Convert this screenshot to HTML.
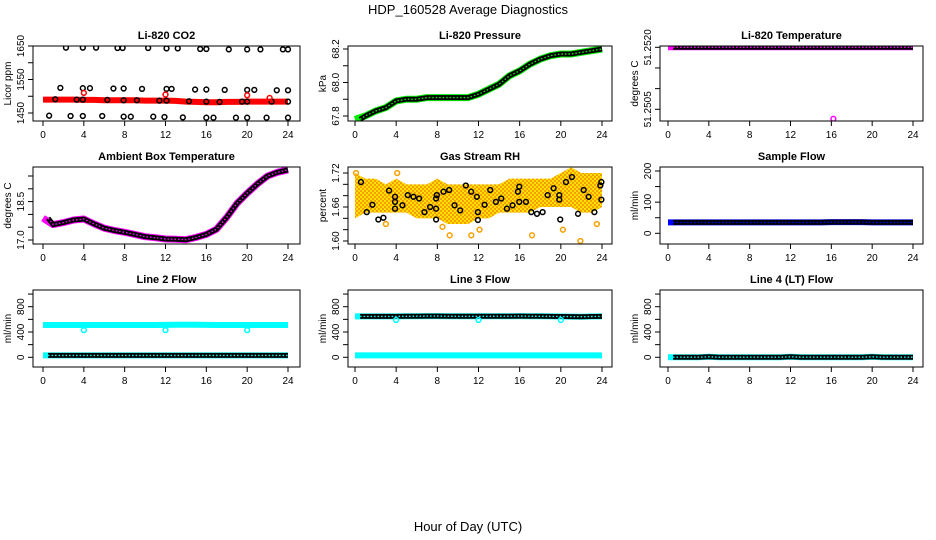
<!DOCTYPE html>
<html><head><meta charset="utf-8">
<style>
html,body{margin:0;padding:0;background:#fff}
svg{display:block}
text{font-family:"Liberation Sans",sans-serif}
</style></head>
<body>
<svg id="c" width="936" height="540" viewBox="0 0 936 540" xmlns="http://www.w3.org/2000/svg">
<text x="468" y="14" text-anchor="middle" font-size="13">HDP_160528  Average Diagnostics</text>
<text x="468" y="531" text-anchor="middle" font-size="13">Hour of Day (UTC)</text>
</svg>
<script>
// ---- data ----
const hours = [0,1,2,3,4,5,6,7,8,9,10,11,12,13,14,15,16,17,18,19,20,21,22,23,24];
const xTicks = [0,4,8,12,16,20,24];
// CO2
const co2Band = [1490,1490,1490,1490,1489,1489,1488,1488,1488,1488,1487,1487,1487,1486,1484,1483,1482,1482,1483,1483,1484,1484,1484,1484,1484];
const co2PtT = [2.25,3.9,5.2,7.3,7.8,10.3,12.1,13.2,15.4,16,18.2,20,21.3,23.5,24,
 1.7,3.9,4.6,6.9,7.9,9.7,12.1,12.6,14.9,16,17.8,20,20.7,22.9,24,
 0.6,2.7,3.9,5.8,7.9,8.6,10.8,11.9,13.7,16,16.7,18.9,20,21.9,24,
 1.2,3.3,3.9,6.3,7.9,9.2,11.4,12.1,14.3,16,17.3,19.5,20,22.4,24];
const co2PtV = [1645,1645,1645,1644,1644,1644,1643,1643,1641,1641,1640,1640,1640,1640,1640,
 1525,1524,1524,1523,1523,1522,1522,1522,1520,1520,1519,1519,1519,1518,1518,
 1442,1441,1441,1441,1439,1439,1439,1438,1437,1436,1436,1436,1436,1436,1436,
 1491,1490,1490,1489,1488,1488,1487,1487,1485,1484,1483,1484,1484,1484,1484];
const co2RedT = [4,12,20,22.2];
const co2RedV = [1510,1505,1503,1495];
// Pressure
const presV = [67.78,67.80,67.83,67.85,67.89,67.90,67.90,67.91,67.91,67.91,67.91,67.91,67.93,67.96,67.99,68.04,68.07,68.11,68.14,68.16,68.17,68.17,68.18,68.19,68.20];
// Li-820 Temperature
const tempV = [51.2520,51.2520,51.2520,51.2520,51.2520,51.2520,51.2520,51.2520,51.2520,51.2520,51.2520,51.2520,51.2520,51.2520,51.2520,51.2520,51.2520,51.2520,51.2520,51.2520,51.2520,51.2520,51.2520,51.2520,51.2520];
const tempOutT = [16.2];
const tempOutV = [51.25027];
// Ambient box temperature
const ambV = [17.85,17.6,17.68,17.78,17.82,17.63,17.46,17.37,17.3,17.22,17.13,17.09,17.04,17.03,17.01,17.1,17.22,17.42,17.89,18.43,18.83,19.19,19.5,19.65,19.74];
// Gas stream RH
const rhUpper = [1.72,1.71,1.71,1.70,1.71,1.70,1.70,1.70,1.71,1.70,1.70,1.70,1.70,1.70,1.70,1.71,1.71,1.71,1.71,1.71,1.72,1.73,1.72,1.72,1.72];
const rhLower = [1.64,1.65,1.65,1.65,1.65,1.65,1.64,1.64,1.64,1.63,1.63,1.63,1.64,1.64,1.65,1.65,1.65,1.65,1.66,1.66,1.66,1.66,1.65,1.65,1.66];
const rhOutT = [0.1,4.1,9.2,11.3,17.2,21.9,23.5,20.2,23.2,3,12.1,8.5];
const rhOutV = [1.72,1.72,1.61,1.61,1.61,1.60,1.63,1.62,1.735,1.63,1.62,1.625];
const rhPtT = [0.58,1.14,1.69,2.27,2.76,3.31,3.89,3.89,3.89,4.61,5.13,5.68,6.23,6.75,7.30,7.88,7.88,7.95,7.88,8.60,9.15,9.67,10.22,10.77,11.29,11.84,11.94,11.94,12.59,13.14,13.69,14.21,14.76,15.31,15.83,15.96,15.96,16.61,17.13,17.68,18.23,18.72,19.30,19.85,19.85,19.94,20.50,21.08,21.67,22.22,22.70,23.26,23.84,23.94,23.94];
const rhPtV = [1.704,1.651,1.664,1.638,1.641,1.689,1.678,1.669,1.657,1.663,1.681,1.678,1.675,1.651,1.660,1.675,1.657,1.681,1.638,1.687,1.690,1.663,1.654,1.698,1.687,1.678,1.651,1.637,1.664,1.690,1.669,1.675,1.657,1.663,1.687,1.696,1.669,1.669,1.651,1.648,1.651,1.681,1.693,1.681,1.673,1.638,1.704,1.713,1.648,1.690,1.678,1.651,1.698,1.704,1.673];
// Sample flow
const sampV = [35,35,35,35,35,35,35,35,35,35,35,35,35,35,35,35,36,36,36,36,35,35,35,35,35];
// Line 2 flow
const l2High = [510,510,510,510,510,510,510,510,510,510,510,510,512,515,515,515,512,510,510,510,510,510,510,510,510];
const l2Low = [30,30,30,30,30,30,30,30,30,30,30,30,30,30,30,30,30,30,30,30,30,30,30,30,30];
const l2OutT = [4,12,20];
const l2OutV = [430,430,430];
// Line 3 flow
const l3High = [647,647,647,647,647,648,650,652,652,650,648,648,648,648,650,650,652,650,648,647,645,643,642,645,647];
const l3Low = [30,30,30,30,30,30,30,30,30,30,30,30,30,30,30,30,30,30,30,30,30,30,30,30,30];
const l3OutT = [4,12,20];
const l3OutV = [590,590,590];
// Line 4 flow
const l4V = [2,2,2,2,8,2,2,2,2,2,2,2,8,2,2,2,2,2,2,2,8,2,2,2,2];

// ---- drawing ----
const svg = document.getElementById('c');
const NS = 'http://www.w3.org/2000/svg';
function mk(tag, attrs, parent){
  const e = document.createElementNS(NS, tag);
  for (const k in attrs) e.setAttribute(k, attrs[k]);
  (parent||svg).appendChild(e);
  return e;
}
function panel(cfg){
  const g = mk('g', {});
  
  
  const [bx0,bx1,by0,by1] = cfg.box;
  const sx = h => cfg.x0 + (cfg.x24 - cfg.x0) * h / 24;
  const sy = v => cfg.py0 + (cfg.py1 - cfg.py0) * (v - cfg.v0) / (cfg.v1 - cfg.v0);
  const t = mk('text', {x:(bx0+bx1)/2, y:by0-7, 'text-anchor':'middle', 'font-size':11, 'font-weight':'bold'}, g);
  t.textContent = cfg.title;
  
  
  const clip = 'clip-' + cfg.name;
  const cp = mk('clipPath', {id: clip}, g);
  mk('rect', {x:bx0, y:by0, width:bx1-bx0, height:by1-by0}, cp);
  const pg = mk('g', {'clip-path':'url(#'+clip+')'}, g);
  
  
  cfg.draw(pg, sx, sy);
  const box = mk('rect', {x:bx0, y:by0, width:bx1-bx0, height:by1-by0, fill:'none', stroke:'#000', 'stroke-width':1}, g);
  
  
  // x axis
  const xa = mk('g', {}, g);
  
  
  mk('line', {x1:sx(0), x2:sx(24), y1:by1, y2:by1, stroke:'#000'}, xa);
  xTicks.forEach(h => {
    mk('line', {x1:sx(h), x2:sx(h), y1:by1, y2:by1+5, stroke:'#000'}, xa);
    const l = mk('text', {x:sx(h), y:by1+17, 'text-anchor':'middle', 'font-size':10}, xa);
    l.textContent = h;
    
    
  });
  // y axis
  const ya = mk('g', {}, g);
  
  
  mk('line', {x1:bx0, x2:bx0, y1:sy(cfg.yTicks[0]), y2:sy(cfg.yTicks[cfg.yTicks.length-1]), stroke:'#000'}, ya);
  cfg.yTicks.forEach(v => {
    mk('line', {x1:bx0-5, x2:bx0, y1:sy(v), y2:sy(v), stroke:'#000'}, ya);
  });
  cfg.yLabels.forEach(s => {
    const y = sy(parseFloat(s));
    const l = mk('text', {x:0, y:0, 'text-anchor':'middle', 'font-size':10, transform:'translate('+(bx0-9)+','+y+') rotate(-90)'}, ya);
    l.textContent = s;
    
    
  });
  const yl = mk('text', {x:0, y:0, 'text-anchor':'middle', 'font-size':10, transform:'translate('+(bx0-22)+','+((by0+by1)/2)+') rotate(-90)'}, g);
  yl.textContent = cfg.ylab;
  
  
}
function pts(ts, vs, sx, sy){ return ts.map((h,i) => sx(h).toFixed(1)+','+sy(vs[i]).toFixed(1)).join(' '); }
function band(g, ts, vs, sx, sy, color, w, name){
  const p = mk('polyline', {points:pts(ts,vs,sx,sy), fill:'none', stroke:color, 'stroke-width':w, 'stroke-linejoin':'round'}, g);
  
  
}
function chain(g, ts, vs, sx, sy, inner, name){
  const t0 = ts.map(h => Math.max(h, 0.5));
  const p = mk('polyline', {points:pts(t0,vs,sx,sy), fill:'none', stroke:'#000', 'stroke-width':5}, g);
  
  
  mk('polyline', {points:pts(t0,vs,sx,sy), fill:'none', stroke:inner, 'stroke-width':1.4, 'stroke-dasharray':'1.5 2'}, g);
}
function circles(g, ts, vs, sx, sy, color, name){
  ts.forEach((h,i) => {
    const c = mk('circle', {cx:sx(h), cy:sy(vs[i]), r:2.4, fill:'none', stroke:color, 'stroke-width':1.5}, g);
    
    
  });
}
const rowY = [[46,121],[167,244],[290,367]];
const colX = [[33,300,43,288],[348,612,355,602],[660,923,668,913]];
function base(r,c){ return {box:[colX[c][0],colX[c][1],rowY[r][0],rowY[r][1]], x0:colX[c][2], x24:colX[c][3]}; }

panel(Object.assign(base(0,0), {name:'panel-co2', title:'Li-820 CO2', ylab:'Licor ppm', v0:1450, py0:113, v1:1650, py1:46,
  yTicks:[1450,1500,1550,1600,1650], yLabels:['1450','1550','1650'],
  draw:(g,sx,sy)=>{ band(g,hours,co2Band,sx,sy,'#f00',6,'co2-band'); circles(g,co2PtT,co2PtV,sx,sy,'#000','co2-point'); circles(g,co2RedT,co2RedV,sx,sy,'#f00','co2-red-point'); }}));
panel(Object.assign(base(0,1), {name:'panel-pressure', title:'Li-820 Pressure', ylab:'kPa', v0:67.8, py0:116, v1:68.2, py1:49,
  yTicks:[67.8,67.9,68.0,68.1,68.2], yLabels:['67.8','68.0','68.2'],
  draw:(g,sx,sy)=>{ band(g,hours,presV,sx,sy,'#0e0',7,'pressure-band'); chain(g,hours,presV,sx,sy,'#0e0','pressure-points'); }}));
panel(Object.assign(base(0,2), {name:'panel-li820-temp', title:'Li-820 Temperature', ylab:'degrees C', v0:51.2505, py0:109.3, v1:51.2520, py1:47.3,
  yTicks:[51.2505,51.2510,51.2515,51.2520], yLabels:['51.2505','51.2520'],
  draw:(g,sx,sy)=>{ band(g,hours,tempV,sx,sy,'#f0f',6,'li820-temp-band'); chain(g,hours,tempV,sx,sy,'#f0f','li820-temp-points'); circles(g,tempOutT,tempOutV,sx,sy,'#f0f','li820-temp-outlier'); }}));
panel(Object.assign(base(1,0), {name:'panel-ambient-temp', title:'Ambient Box Temperature', ylab:'degrees C', v0:17.0, py0:240, v1:19.5, py1:176,
  yTicks:[17.0,17.5,18.0,18.5,19.0,19.5], yLabels:['17.0','18.5'],
  draw:(g,sx,sy)=>{ band(g,hours,ambV,sx,sy,'#f0f',7,'ambient-temp-band'); chain(g,hours,ambV,sx,sy,'#f0f','ambient-temp-points'); }}));
panel(Object.assign(base(1,1), {name:'panel-gas-rh', title:'Gas Stream RH', ylab:'percent', v0:1.60, py0:241, v1:1.72, py1:173,
  yTicks:[1.60,1.62,1.64,1.66,1.68,1.70,1.72], yLabels:['1.60','1.66','1.72'],
  draw:(g,sx,sy)=>{
    const defs = mk('defs',{},g);
    const pat = mk('pattern',{id:'rhpat',width:4,height:4,patternUnits:'userSpaceOnUse'},defs);
    mk('rect',{width:4,height:4,fill:'#f5a000'},pat);
    mk('rect',{x:0,y:0,width:2,height:2,fill:'#ffe000'},pat);
    mk('rect',{x:2,y:2,width:2,height:2,fill:'#ffe000'},pat);
    const poly = hours.map((h,i)=>sx(h)+','+sy(rhUpper[i])).concat(hours.slice().reverse().map((h,j)=>sx(h)+','+sy(rhLower[hours.length-1-j])));
    const b = mk('polygon',{points:poly.join(' '),fill:'url(#rhpat)'},g);
    
    
    circles(g,rhOutT,rhOutV,sx,sy,'#f5a000','rh-outlier');
    circles(g,rhPtT,rhPtV,sx,sy,'#000','rh-point');
  }}));
panel(Object.assign(base(1,2), {name:'panel-sample-flow', title:'Sample Flow', ylab:'ml/min', v0:0, py0:233.3, v1:200, py1:171,
  yTicks:[0,50,100,150,200], yLabels:['0','100','200'],
  draw:(g,sx,sy)=>{ band(g,hours,sampV,sx,sy,'#00f',6,'sample-flow-band'); chain(g,hours,sampV,sx,sy,'#00f','sample-flow-points'); }}));
const flowY = {v0:0, py0:357.3, v1:800, py1:306.7, yTicks:[0,200,400,600,800,1000], yLabels:['0','400','800'], ylab:'ml/min'};
panel(Object.assign(base(2,0), flowY, {name:'panel-line2-flow', title:'Line 2 Flow',
  draw:(g,sx,sy)=>{ band(g,hours,l2High,sx,sy,'#0ff',6,'line2-high-band'); band(g,hours,l2Low,sx,sy,'#0ff',6,'line2-low-band'); chain(g,hours,l2Low,sx,sy,'#0ff','line2-points'); circles(g,l2OutT,l2OutV,sx,sy,'#0ff','line2-outlier'); }}));
panel(Object.assign(base(2,1), flowY, {name:'panel-line3-flow', title:'Line 3 Flow',
  draw:(g,sx,sy)=>{ band(g,hours,l3Low,sx,sy,'#0ff',6,'line3-low-band'); band(g,hours,l3High,sx,sy,'#0ff',6,'line3-high-band'); chain(g,hours,l3High,sx,sy,'#0ff','line3-points'); circles(g,l3OutT,l3OutV,sx,sy,'#0ff','line3-outlier'); }}));
panel(Object.assign(base(2,2), flowY, {name:'panel-line4-flow', title:'Line 4 (LT) Flow',
  draw:(g,sx,sy)=>{ band(g,hours,l4V,sx,sy,'#0ff',6,'line4-band'); chain(g,hours,l4V,sx,sy,'#0ff','line4-points'); }}));
</script>
</body></html>
